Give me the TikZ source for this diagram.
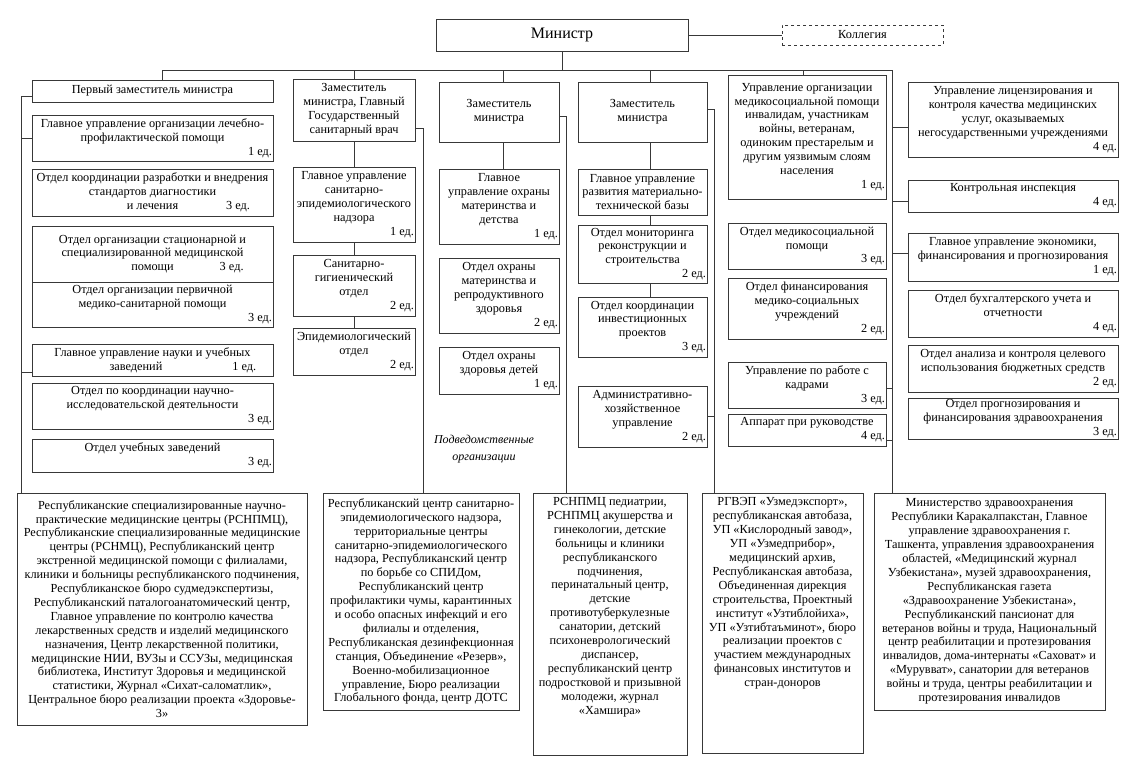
\documentclass[tikz,border=0pt]{standalone}
\usepackage{fontspec}
\setmainfont{Liberation Serif}
\usetikzlibrary{calc}
\newcommand\bxfont{\fontsize{12.3}{13.9}\selectfont\hyphenpenalty=10000\exhyphenpenalty=10000\relax}
\newcommand\edn[2]{\\\mbox{}\hfill#2~ед.\hspace*{#1pt}}
\newcommand\bx[7][]{\node[box,#1,minimum width={(#5-#3)*1pt},minimum height={(#6-#4)*1pt},text width={(#5-#3-2)*1pt}] (#2) at ({(#3+#5)/2},{(#4+#6)/2}) {#7};}
\tikzset{
  box/.style={draw=black!78, line width=0.8pt, rectangle, inner xsep=1pt, inner ysep=1pt, align=flush center, font=\bxfont, fill=white},
  ln/.style={draw=black!78, line width=0.8pt},
  lbl/.style={align=center, font=\fontsize{12}{17}\selectfont\itshape, inner sep=0pt}
}
\begin{document}
\begin{tikzpicture}[x=1pt,y=-1pt]
\useasboundingbox[fill=white] (0,0) rectangle (1131,771);
% top
\bx{min}{436}{19}{688}{51}{\fontsize{16}{18}\selectfont Министр}
\bx[dashed]{kol}{782}{25}{943}{45}{Коллегия}
% column 1
\bx{fd}{32}{80}{273}{102}{Первый заместитель министра}
\bx{ga}{32}{115}{273}{161}{Главное управление организации лечебно-\\профилактической помощи\edn{1}{1}}
\bx{gb}{32}{169}{273}{216}{Отдел координации разработки и внедрения\\стандартов диагностики\\и лечения\rlap{\hspace{48pt}3~ед.}}
\bx{gc}{32}{226}{273}{282}{Отдел организации стационарной и\\специализированной медицинской\\помощи\rlap{\hspace{46pt}3~ед.}}
\bx{gd}{32}{282}{273}{327}{Отдел организации первичной\\медико-санитарной помощи\edn{9}{3}}
\bx{ge}{32}{344}{273}{376}{Главное управление науки и учебных\\\hspace*{-33pt}заведений\rlap{\hspace{70pt}1~ед.}}
\bx{gf}{32}{383}{273}{429}{Отдел по координации научно-\\исследовательской деятельности\edn{12}{3}}
\bx{gg}{32}{439}{273}{472}{Отдел учебных заведений\edn{12}{3}}
\bx{oa}{17}{493}{307}{725}{Республиканские специализированные научно-\\практические медицинские центры (РСНПМЦ),\\Республиканские специализированные медицинские\\центры (РСНМЦ), Республиканский центр\\экстренной медицинской помощи с филиалами,\\клиники и больницы республиканского подчинения,\\Республиканское бюро судмедэкспертизы,\\Республиканский паталогоанатомический центр,\\Главное управление по контролю качества\\лекарственных средств и изделий медицинского\\назначения, Центр лекарственной политики,\\медицинские НИИ, ВУЗы и ССУЗы, медицинская\\библиотека, Институт Здоровья и медицинской\\статистики, Журнал «Сихат-саломатлик»,\\Центральное бюро реализации проекта «Здоровье-\\3»}
% column 2
\bx{da}{293}{79}{415}{141}{Заместитель\\министра, Главный\\Государственный\\санитарный врач}
\bx{ea}{293}{167}{415}{242}{Главное управление\\санитарно-\\эпидемиологического\\надзора\edn{3}{1}}
\bx{eb}{293}{255}{415}{316}{Санитарно-\\гигиенический\\отдел\edn{11}{2}}
\bx{ec}{293}{328}{415}{375}{Эпидемиологический\\отдел\edn{14}{2}}
\bx{ob}{323}{493}{519}{710}{Республиканский центр санитарно-\\эпидемиологического надзора,\\территориальные центры\\санитарно-эпидемиологического\\надзора, Республиканский центр\\по борьбе со СПИДом,\\Республиканский центр\\профилактики чумы, карантинных\\и особо опасных инфекций и его\\филиалы и отделения,\\Республиканская дезинфекционная\\станция, Объединение «Резерв»,\\Военно-мобилизационное\\управление, Бюро реализации\\Глобального фонда, центр ДОТС}
% column 3
\bx{db}{439}{82}{559}{142}{Заместитель\\министра}
\bx{ma}{439}{169}{559}{244}{Главное\\управление охраны\\материнства и\\детства\edn{13}{1}}
\bx{mb}{439}{258}{559}{333}{Отдел охраны\\материнства и\\репродуктивного\\здоровья\edn{8}{2}}
\bx{mc}{439}{347}{559}{394}{Отдел охраны\\здоровья детей\edn{11}{1}}
\bx{oc}{533}{493}{687}{755}{РСНПМЦ педиатрии,\\РСНПМЦ акушерства и\\гинекологии, детские\\больницы и клиники\\республиканского\\подчинения,\\перинатальный центр,\\детские\\противотуберкулезные\\санатории, детский\\психоневрологический\\диспансер,\\республиканский центр\\подростковой и призывной\\молодежи, журнал\\«Хамшира»\\\rule{0pt}{33pt}}
\node[lbl] (sub) at (484,449) {Подведомственные\\организации};
% column 4
\bx{dc}{578}{82}{707}{142}{Заместитель\\министра}
\bx{ta}{578}{169}{707}{215}{Главное управление\\развития материально-\\технической базы}
\bx{tb}{578}{225}{707}{283}{Отдел мониторинга\\реконструкции и\\строительства\edn{13}{2}}
\bx{tc}{578}{297}{707}{357}{Отдел координации\\инвестиционных\\проектов\edn{12}{3}}
\bx{adm}{578}{386}{707}{447}{Административно-\\хозяйственное\\управление\edn{12}{2}}
\bx{od}{702}{493}{863}{753}{РГВЭП «Узмедэкспорт»,\\республиканская автобаза,\\УП «Кислородный завод»,\\УП «Узмедприбор»,\\медицинский архив,\\Республиканская автобаза,\\Объединенная дирекция\\строительства, Проектный\\институт «Узтиблойиха»,\\УП «Узтибтаъминот», бюро\\реализации проектов с\\участием международных\\финансовых институтов и\\стран-доноров\\\rule{0pt}{58pt}}
% column 5
\bx{dd}{728}{75}{886}{199}{Управление организации\\медикосоциальной помощи\\инвалидам, участникам\\войны, ветеранам,\\одиноким престарелым и\\другим уязвимым слоям\\населения\edn{3}{1}}
\bx{sa}{728}{223}{886}{269}{Отдел медикосоциальной\\помощи\edn{3}{3}}
\bx{sb}{728}{278}{886}{339}{Отдел финансирования\\медико-социальных\\учреждений\edn{3}{2}}
\bx{kad}{728}{362}{886}{408}{Управление по работе с\\кадрами\edn{3}{3}}
\bx{app}{728}{414}{886}{446}{Аппарат при руководстве\edn{3}{4}}
% column 6
\bx{ra}{908}{82}{1118}{157}{Управление лицензирования и\\контроля качества медицинских\\услуг, оказываемых\\негосударственными учреждениями\edn{1}{4}}
\bx{rb}{908}{180}{1118}{212}{Контрольная инспекция\edn{1}{4}}
\bx{rc}{908}{233}{1118}{281}{Главное управление экономики,\\финансирования и прогнозирования\edn{1}{1}}
\bx{rd}{908}{290}{1118}{337}{Отдел бухгалтерского учета и\\отчетности\edn{1}{4}}
\bx{re}{908}{345}{1118}{392}{Отдел анализа и контроля целевого\\использования бюджетных средств\edn{1}{2}}
\bx{rf}{908}{400}{1118}{438}{Отдел прогнозирования и\\финансирования здравоохранения\edn{1}{3}}
\bx{oe}{874}{493}{1105}{710}{Министерство здравоохранения\\Республики Каракалпакстан, Главное\\управление здравоохранения г.\\Ташкента, управления здравоохранения\\областей, «Медицинский журнал\\Узбекистана», музей здравоохранения,\\Республиканская газета\\«Здравоохранение Узбекистана»,\\Республиканский пансионат для\\ветеранов войны и труда, Национальный\\центр реабилитации и протезирования\\инвалидов, дома-интернаты «Саховат» и\\«Мурувват», санатории для ветеранов\\войны и труда, центры реабилитации и\\протезирования инвалидов}
% connectors
\coordinate (busL) at (162,70);
\coordinate (busR) at (892,70);
\coordinate (c3) at (503,70);
\coordinate (c4) at (650,70);
\coordinate (c5) at (803,70);
\draw[ln] (min.east) -- (kol.west);
\draw[ln] (min.south) -- (min.south |- busL);
\draw[ln] (busL) -- (busR);
\draw[ln] (busL) -- (busL |- fd.north);
\draw[ln] (da.north |- busL) -- (da.north);
\draw[ln] (c3) -- (c3 |- db.north);
\draw[ln] (c4) -- (c4 |- dc.north);
\draw[ln] (c5) -- (c5 |- dd.north);
% column 1 spine
\coordinate (sp1) at (21,96);
\draw[ln] (sp1 -| fd.west) -- (sp1) -- (sp1 |- oa.north);
\draw[ln] (sp1 |- ga.west) -- (ga.west);
\coordinate (ge1) at ($(ge.south west)+(0,-4)$);
\draw[ln] (sp1 |- ge1) -- (ge1);
% column 2
\draw[ln] (da.south) -- (ea.north);
\draw[ln] (ea.south) -- (eb.north);
\draw[ln] (eb.south) -- (ec.north);
\coordinate (k2) at (423,128);
\draw[ln] (k2 -| da.east) -- (k2) -- (k2 |- ob.north);
% column 3
\draw[ln] (c3 |- db.south) -- (c3 |- ma.north);
\coordinate (k3) at (566,116);
\draw[ln] (k3 -| db.east) -- (k3) -- (k3 |- oc.north);
% column 4
\draw[ln] (c4 |- dc.south) -- (c4 |- ta.north);
\draw[ln] (c4 |- ta.south) -- (c4 |- tb.north);
\draw[ln] (c4 |- tb.south) -- (c4 |- tc.north);
\coordinate (k4) at (714,109);
\draw[ln] (k4 -| dc.east) -- (k4) -- (k4 |- od.north);
\draw[ln] (adm.east) -- (adm.east -| k4);
% right spine
\draw[ln] (busR) -- (busR |- oe.north);
\draw[ln] (busR |- 0,127) -- (ra.west |- 0,127);
\draw[ln] (busR |- 0,201) -- (rb.west |- 0,201);
\draw[ln] (busR |- 0,253) -- (rc.west |- 0,253);
\draw[ln] (busR |- 0,388) -- (kad.east |- 0,388);
\draw[ln] (busR |- 0,440) -- (app.east |- 0,440);
\end{tikzpicture}
\end{document}
